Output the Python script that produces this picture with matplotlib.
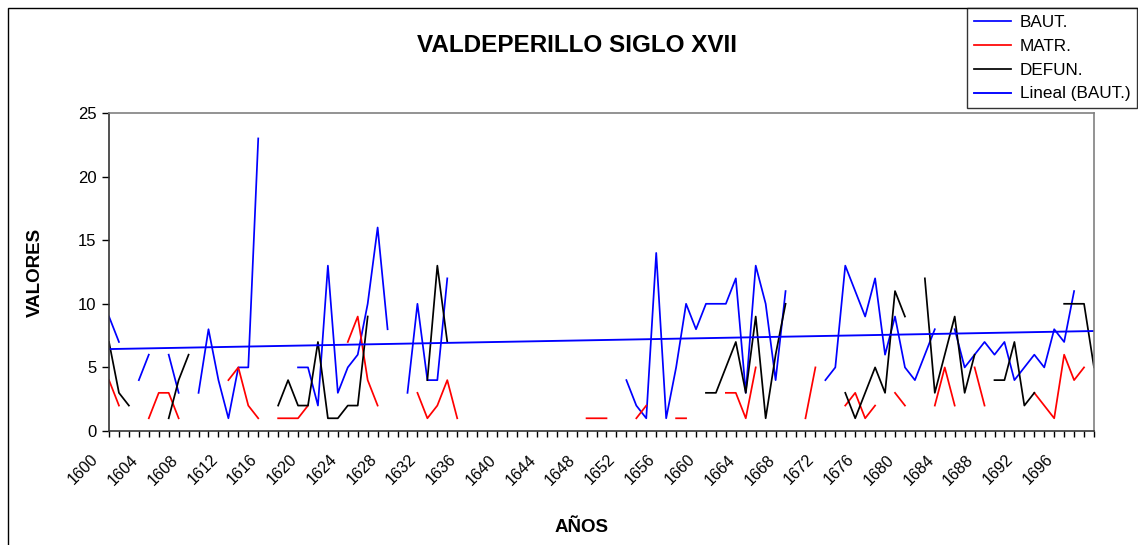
import numpy as np
import matplotlib
matplotlib.use("Agg")
import matplotlib.pyplot as plt
import matplotlib.transforms as mtransforms
from matplotlib.patches import Rectangle

plt.rcParams['font.family'] = ['Liberation Sans', 'DejaVu Sans']

nan = np.nan
years = np.arange(1600, 1700)

# bautismos
baut = [9, 7, nan, 4, 6, nan, 6, 3, nan, 3,
        8, 4, 1, 5, 5, 23, nan, nan, nan, 5,
        5, 2, 13, 3, 5, 6, 10, 16, 8, nan,
        3, 10, 4, 4, 12, nan, nan, nan, nan, nan,
        nan, nan, nan, nan, nan, nan, nan, nan, nan, nan,
        nan, nan, 4, 2, 1, 14, 1, 5, 10, 8,
        10, 10, 10, 12, 3, 13, 10, 4, 11, nan,
        nan, nan, 4, 5, 13, 11, 9, 12, 6, 9,
        5, 4, 6, 8, nan, 8, 5, 6, 7, 6,
        7, 4, 5, 6, 5, 8, 7, 11, nan, nan]

# matrimonios
matr = [4, 2, nan, nan, 1, 3, 3, 1, nan, nan,
        nan, nan, 4, 5, 2, 1, nan, 1, 1, 1,
        2, nan, nan, nan, 7, 9, 4, 2, nan, nan,
        nan, 3, 1, 2, 4, 1, nan, nan, nan, nan,
        nan, nan, nan, nan, nan, nan, nan, nan, 1, 1,
        1, nan, nan, 1, 2, nan, nan, 1, 1, nan,
        nan, nan, 3, 3, 1, 5, nan, nan, nan, nan,
        1, 5, nan, nan, 2, 3, 1, 2, nan, 3,
        2, nan, nan, 2, 5, 2, nan, 5, 2, nan,
        nan, nan, nan, 3, 2, 1, 6, 4, 5, nan]

# defunciones
defun = [7, 3, 2, nan, nan, nan, 1, 4, 6, nan,
         nan, nan, nan, nan, nan, nan, nan, 2, 4, 2,
         2, 7, 1, 1, 2, 2, 9, nan, nan, nan,
         nan, nan, 4, 13, 7, nan, nan, nan, nan, nan,
         nan, nan, nan, nan, nan, nan, nan, nan, nan, nan,
         nan, nan, nan, nan, nan, nan, nan, nan, nan, nan,
         3, 3, 5, 7, 3, 9, 1, 6, 10, nan,
         nan, nan, nan, nan, 3, 1, 3, 5, 3, 11,
         9, nan, 12, 3, 6, 9, 3, 6, nan, 4,
         4, 7, 2, 3, nan, nan, 10, 10, 10, 5]

trend_years = [1600, 1699]
trend_vals = [6.44, 7.86]

W, H = 1138, 545
fig = plt.figure(figsize=(W / 100, H / 100), dpi=100)
ax = fig.add_axes([109 / W, 1 - 431 / H, (1094 - 109) / W, (431 - 113) / H])

ax.plot(years, baut, color="#0000FF", lw=1.25, label="BAUT.")
ax.plot(years, matr, color="#FF0000", lw=1.25, label="MATR.")
ax.plot(years, defun, color="#000000", lw=1.25, label="DEFUN.")
ax.plot(trend_years, trend_vals, color="#0000FF", lw=1.35, label="Lineal (BAUT.)")

ax.set_xlim(1600, 1699)
ax.set_ylim(0, 25)
ax.set_yticks(range(0, 26, 5))
ax.set_xticks(years)
ax.set_xticklabels([str(y) if (y - 1600) % 4 == 0 else "" for y in years],
                   rotation=45, ha="right", va="top")
ax.tick_params(axis="x", length=4, width=1, pad=11, labelsize=11.5)
ax.tick_params(axis="y", length=5, width=1, pad=4, labelsize=12)
offset = mtransforms.ScaledTranslation(-8 / 100, 0, fig.dpi_scale_trans)
for lab in ax.get_xticklabels():
    lab.set_transform(lab.get_transform() + offset)

for side in ["top", "right"]:
    ax.spines[side].set_color("#808080")
    ax.spines[side].set_linewidth(1.2)
for side in ["left", "bottom"]:
    ax.spines[side].set_color("#333333")
    ax.spines[side].set_linewidth(1.2)

fig.text(577 / W, 1 - 45 / H, "VALDEPERILLO SIGLO XVII", ha="center", va="center",
         fontsize=17.5, fontweight="bold")
fig.text(35 / W, 1 - 272 / H, "VALORES", ha="center", va="center", rotation=90,
         fontsize=13.5, fontweight="bold")
fig.text(582 / W, 1 - 528 / H, "AÑOS", ha="center", va="center",
         fontsize=13.5, fontweight="bold")

# borde del area del grafico
fig.patches.append(Rectangle((8 / W, -0.1), 1.2, 1.1 - 8 / H, transform=fig.transFigure,
                             fill=False, edgecolor="black", lw=1))

leg = fig.legend(loc="upper left", bbox_to_anchor=(967 / W, 1 - 8 / H), borderaxespad=0,
                 fontsize=12.3, frameon=True, fancybox=False, handlelength=2.2,
                 handletextpad=0.5, labelspacing=0.52, borderpad=0.4)
leg.get_frame().set_edgecolor("black")
leg.get_frame().set_linewidth(1)

fig.savefig("out.png", dpi=100)
